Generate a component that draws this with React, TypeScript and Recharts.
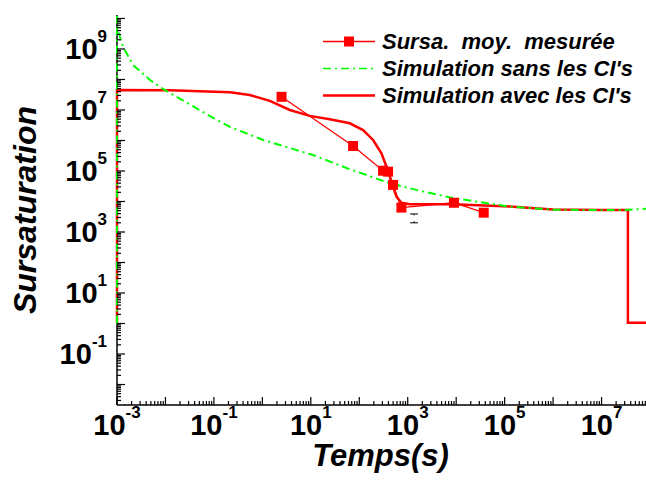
import React from 'react'
import { LineChart, Line, XAxis, YAxis, Legend, ErrorBar, CartesianGrid } from 'recharts'

// measured mean supersaturation (red squares)
const measuredTime = [2.49, 74.5, 310, 393, 498, 741, 9000, 37000]
const measuredSursat = [2.7e7, 6.6e5, 1.02e5, 9.5e4, 3.5e4, 6.3e3, 9.1e3, 4.3e3]

// lone black error bar
const loneTime = [1350]
const loneSursat = [2.8e3]
const loneErr = [[0.8e3, 1.1e3]]

// simulation without CI's (green dash-dot)
const sansTime = [1e-3, 1e-3, 1.05e-3, 1.33e-3, 2.14e-3, 4.8e-3, 8.9e-3, 0.115, 0.214, 1.04, 11, 54.5, 425, 1510, 8470, 1.27e5, 1e6, 1e7, 3e7, 1e8]
const sansSursat = [1, 1.2e10, 4.0e9, 1.2e9, 3.0e8, 9.6e7, 4.9e7, 4.7e6, 2.8e6, 1.04e6, 3.35e5, 1.25e5, 4.0e4, 2.4e4, 1.3e4, 6.8e3, 5.4e3, 5.2e3, 5.3e3, 5.85e3]

// simulation with CI's (red solid)
const avecTime = [1e-3, 1e-3, 0.0124, 0.214, 0.55, 1.43, 3.69, 9.5, 24.6, 63.7, 120, 193, 287, 364, 426, 498, 585, 741, 1100, 8600, 1.27e5, 1e6, 1e7, 3.5e7, 3.5e7, 1e8]
const avecSursat = [1.06, 4.5e7, 4.4e7, 3.8e7, 3.1e7, 2.0e7, 1.0e7, 6.4e6, 4.95e6, 3.66e6, 2.2e6, 1.04e6, 3.8e5, 1.38e5, 6.5e4, 3.05e4, 1.44e4, 9.1e3, 8.1e3, 8.1e3, 6.8e3, 5.5e3, 5.3e3, 5.3e3, 1.06, 1.06]

const xDecades = [-3, -2, -1, 0, 1, 2, 3, 4, 5, 6, 7, 8]
const yDecades = [-3, -2, -1, 0, 1, 2, 3, 4, 5, 6, 7, 8, 9, 10]
const minorSteps = [2, 3, 4, 5, 6, 7, 8, 9]
const xLabelled = [-3, -1, 1, 3, 5, 7]
const yLabelled = [-1, 1, 3, 5, 7, 9]

const xDomain = [1e-3, 1e8]
const yDomain = [2.13e-3, 1.3e10]

const measured = measuredTime.map((x, i) => ({ x, y: measuredSursat[i] }))
const lone = loneTime.map((x, i) => ({ x, y: loneSursat[i], err: loneErr[i] }))
const sans = sansTime.map((x, i) => ({ x, y: sansSursat[i] }))
const avec = avecTime.map((x, i) => ({ x, y: avecSursat[i] }))

const buildTicks = (decades: number[], domain: number[], withMinor: boolean) =>
  decades
    .flatMap((k) => [Math.pow(10, k), ...(withMinor ? minorSteps.map((m) => m * Math.pow(10, k)) : [])])
    .filter((v) => v >= domain[0] * 0.9999 && v <= domain[1])
    .sort((a, b) => a - b)

const xTicks = buildTicks(xDecades, xDomain, true)
const yTicks = buildTicks(yDecades, yDomain, true)
const yTicksRight = buildTicks(yDecades, yDomain, false)

const font = '"Liberation Sans", Arial, sans-serif'
const RED = '#ff0000'
const GREEN = '#00ff00'

function LogTick(props: any) {
  const { x, y, payload, side } = props
  const e = Math.log10(payload.value)
  const k = Math.round(e)
  const major = Math.abs(e - k) < 1e-6
  const len = major ? 8 : 4
  let line
  if (side === 'bottom') line = <line x1={x} y1={y} x2={x} y2={y - len} />
  else if (side === 'top') line = <line x1={x} y1={y} x2={x} y2={y + len} />
  else if (side === 'left') line = <line x1={x} y1={y} x2={x + len} y2={y} />
  else line = <line x1={x} y1={y} x2={x - len} y2={y} />

  let label = null
  if (major && side === 'bottom' && xLabelled.includes(k)) {
    label = (
      <text x={x} y={y + 30} textAnchor="middle" fontFamily={font} fontWeight="bold" fontSize={29} fill="#000" stroke="none">
        10<tspan dy={-17} fontSize={17}>{k}</tspan>
      </text>
    )
  }
  if (major && side === 'left' && yLabelled.includes(k)) {
    label = (
      <text x={x - 10} y={y + 10} textAnchor="end" fontFamily={font} fontWeight="bold" fontSize={29} fill="#000" stroke="none">
        10<tspan dy={-17} fontSize={17}>{k}</tspan>
      </text>
    )
  }
  return (
    <g stroke="#000" strokeWidth={1.2}>
      {line}
      {label}
    </g>
  )
}

function SquareDot(props: any) {
  const { cx, cy } = props
  if (cx == null || cy == null) return null
  return <rect x={cx - 5} y={cy - 5} width={10} height={10} fill={RED} stroke="none" />
}

const legendRows = [
  { text: 'Sursa.\u00a0 moy.\u00a0 mesurée', kind: 'measured' },
  { text: "Simulation sans les CI's", kind: 'sans' },
  { text: "Simulation avec les CI's", kind: 'avec' },
]

function LegendBox() {
  return (
    <div style={{ fontFamily: font, fontWeight: 'bold', fontStyle: 'italic', fontSize: 22, color: '#000' }}>
      {legendRows.map((r) => (
        <div key={r.kind} style={{ display: 'flex', alignItems: 'center', height: 27, lineHeight: '27px', whiteSpace: 'nowrap' }}>
          <svg width={56} height={27} style={{ display: 'block' }}>
            {r.kind === 'measured' && (
              <>
                <line x1={2} y1={13.5} x2={54} y2={13.5} stroke={RED} strokeWidth={1.3} />
                <rect x={23} y={8.5} width={10} height={10} fill={RED} />
              </>
            )}
            {r.kind === 'sans' && <line x1={2} y1={13.5} x2={54} y2={13.5} stroke={GREEN} strokeWidth={1.5} strokeDasharray="8 4 2 4" />}
            {r.kind === 'avec' && <line x1={2} y1={13.5} x2={54} y2={13.5} stroke={RED} strokeWidth={2.5} />}
          </svg>
          <span style={{ marginLeft: 5 }}>{r.text}</span>
        </div>
      ))}
    </div>
  )
}

export default function App() {
  return (
    <div style={{ position: 'absolute', left: 0, top: 0, width: 646, height: 483, overflow: 'hidden', background: '#fff' }}>
      <LineChart width={652} height={483} margin={{ top: 15, right: 2, bottom: 0, left: 0 }}>
        <CartesianGrid
          xAxisId="b"
          yAxisId="l"
          horizontal={false}
          vertical
          verticalCoordinatesGenerator={({ offset }: any) => [offset.left]}
          stroke="#000"
          strokeWidth={1.5}
        />
        <XAxis
          xAxisId="b"
          dataKey="x"
          type="number"
          scale="log"
          domain={xDomain}
          ticks={xTicks}
          interval={0}
          height={78}
          tickSize={0}
          tickMargin={0}
          tickLine={false}
          axisLine={{ stroke: '#000', strokeWidth: 1.5 }}
          tick={(p: any) => <LogTick {...p} side="bottom" />}
          label={{ value: 'Temps(s)', position: 'insideBottom', offset: 17, dx: -3, style: { fontFamily: font, fontWeight: 'bold', fontStyle: 'italic', fontSize: 31, fill: '#000' } }}
        />
        <XAxis
          xAxisId="t"
          dataKey="x"
          type="number"
          scale="log"
          orientation="top"
          domain={xDomain}
          ticks={xTicks}
          interval={0}
          height={0}
          tickSize={0}
          tickMargin={0}
          tickLine={false}
          axisLine={{ stroke: '#000', strokeWidth: 1.5 }}
          tick={(p: any) => <LogTick {...p} side="top" />}
        />
        <YAxis
          yAxisId="l"
          type="number"
          scale="log"
          domain={yDomain}
          ticks={yTicks}
          interval={0}
          width={117}
          tickSize={0}
          tickMargin={0}
          tickLine={false}
          axisLine={false}
          tick={(p: any) => <LogTick {...p} side="left" />}
          label={{ value: 'Sursaturation', angle: -90, position: 'insideLeft', offset: 0, dx: 25, style: { textAnchor: 'middle', fontFamily: font, fontWeight: 'bold', fontStyle: 'italic', fontSize: 32, fill: '#000' } }}
        />
        <YAxis
          yAxisId="r"
          type="number"
          scale="log"
          orientation="right"
          domain={yDomain}
          ticks={yTicksRight}
          interval={0}
          width={0}
          tickSize={0}
          tickMargin={0}
          tickLine={false}
          axisLine={{ stroke: '#000', strokeWidth: 1.5 }}
          tick={(p: any) => <LogTick {...p} side="right" />}
        />
        <Legend
          layout="vertical"
          align="center"
          verticalAlign="middle"
          wrapperStyle={{ left: 321, top: 28, width: 330 }}
          content={() => <LegendBox />}
        />
        <Line xAxisId="b" yAxisId="l" data={avec} dataKey="y" type="linear" stroke={RED} strokeWidth={2.5} dot={false} isAnimationActive={false} name="Simulation avec les CI's" />
        <Line xAxisId="b" yAxisId="l" data={sans} dataKey="y" type="linear" stroke={GREEN} strokeWidth={2} strokeDasharray="8 4 2 4" dot={false} isAnimationActive={false} name="Simulation sans les CI's" />
        <Line xAxisId="b" yAxisId="l" data={measured} dataKey="y" type="linear" stroke={RED} strokeWidth={1.3} dot={<SquareDot />} isAnimationActive={false} name="Sursa. moy. mesurée" />
        <Line xAxisId="b" yAxisId="l" data={lone} dataKey="y" type="linear" stroke="none" dot={false} isAnimationActive={false} legendType="none">
          <ErrorBar dataKey="err" width={4} stroke="#000" strokeWidth={1} direction="y" />
        </Line>
      </LineChart>
    </div>
  )
}
